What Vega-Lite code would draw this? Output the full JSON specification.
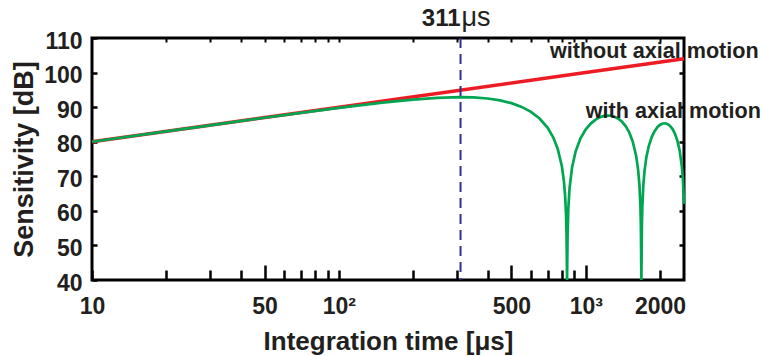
{
  "$schema": "https://vega.github.io/schema/vega-lite/v6.json",
  "width": 592,
  "height": 242,
  "autosize": {"type": "none"},
  "padding": {"left": 92, "top": 38, "right": 79, "bottom": 76},
  "background": "white",
  "config": {"view": {"stroke": "black", "strokeWidth": 3}, "font": "Liberation Sans"},
  "datasets": {
    "red": [
      {"t": 10, "s": 80.0},
      {"t": 100, "s": 90.0},
      {"t": 1000, "s": 100.0},
      {"t": 2500, "s": 103.98}
    ],
    "green": [
      {"t": 10, "s": 80.0}, {"t": 20, "s": 83.0}, {"t": 30, "s": 84.75}, {"t": 50, "s": 86.94},
      {"t": 70, "s": 88.35}, {"t": 100, "s": 89.8}, {"t": 150, "s": 91.3}, {"t": 200, "s": 92.18},
      {"t": 250, "s": 92.67}, {"t": 311, "s": 92.87}, {"t": 350, "s": 92.8}, {"t": 400, "s": 92.5},
      {"t": 450, "s": 91.96}, {"t": 500, "s": 91.16}, {"t": 550, "s": 90.07}, {"t": 600, "s": 88.62},
      {"t": 650, "s": 86.7}, {"t": 700, "s": 84.07}, {"t": 740, "s": 81.1}, {"t": 770, "s": 77.94},
      {"t": 800, "s": 72.98}, {"t": 815, "s": 68.83}, {"t": 825, "s": 64.35}, {"t": 832, "s": 58.86},
      {"t": 836, "s": 52.82}, {"t": 840, "s": 40.0}, {"t": 844, "s": 52.78}, {"t": 850, "s": 60.7},
      {"t": 860, "s": 66.67}, {"t": 880, "s": 72.56}, {"t": 910, "s": 77.21}, {"t": 950, "s": 80.8},
      {"t": 1000, "s": 83.56}, {"t": 1050, "s": 85.32}, {"t": 1100, "s": 86.47}, {"t": 1150, "s": 87.18},
      {"t": 1200, "s": 87.53}, {"t": 1250, "s": 87.57}, {"t": 1300, "s": 87.31}, {"t": 1350, "s": 86.74},
      {"t": 1400, "s": 85.83}, {"t": 1450, "s": 84.52}, {"t": 1500, "s": 82.68}, {"t": 1550, "s": 80.03},
      {"t": 1600, "s": 75.89}, {"t": 1630, "s": 71.81}, {"t": 1650, "s": 67.35}, {"t": 1665, "s": 61.3},
      {"t": 1672, "s": 55.83}, {"t": 1680, "s": 40.0}, {"t": 1688, "s": 55.79}, {"t": 1695, "s": 61.22},
      {"t": 1710, "s": 67.19}, {"t": 1730, "s": 71.55}, {"t": 1760, "s": 75.48}, {"t": 1800, "s": 78.74},
      {"t": 1850, "s": 81.34}, {"t": 1900, "s": 83.06}, {"t": 1950, "s": 84.2}, {"t": 2000, "s": 84.91},
      {"t": 2050, "s": 85.27}, {"t": 2100, "s": 85.32}, {"t": 2150, "s": 85.07}, {"t": 2200, "s": 84.5},
      {"t": 2250, "s": 83.58}, {"t": 2300, "s": 82.23}, {"t": 2350, "s": 80.3}, {"t": 2400, "s": 77.49},
      {"t": 2450, "s": 72.91}, {"t": 2475, "s": 69.09}, {"t": 2500, "s": 62.03}
    ],
    "marker": [{"t": 311, "s": 110}],
    "labels": [
      {"t": 716, "s": 104.2, "label": "without axial motion"},
      {"t": 1000, "s": 86.8, "label": "with axial motion"}
    ]
  },
  "resolve": {"axis": {"x": "independent", "y": "independent"}},
  "layer": [
    {
      "data": {"name": "red"},
      "mark": {"type": "line", "color": "#ed1c24", "strokeWidth": 3.5},
      "encoding": {
        "x": {
          "field": "t", "type": "quantitative",
          "scale": {"type": "log", "domain": [10, 2500], "nice": false},
          "axis": {
            "orient": "bottom", "domain": false, "grid": false,
            "values": [10, 20, 30, 40, 50, 60, 70, 80, 90, 100, 200, 300, 400, 500, 600, 700, 800, 900, 1000, 2000],
            "tickColor": "black", "tickWidth": 2.5,
            "tickSize": {"condition": {"test": "datum.value == 50 || datum.value == 500 || datum.value == 1000", "value": -15}, "value": -10},
            "labelPadding": {"condition": {"test": "datum.value == 50 || datum.value == 500 || datum.value == 1000", "value": 30}, "value": 25},
            "labelExpr": "datum.value == 10 ? '10' : datum.value == 50 ? '50' : datum.value == 100 ? '10²' : datum.value == 500 ? '500' : datum.value == 1000 ? '10³' : datum.value == 2000 ? '2000' : ''",
            "labelFontSize": 23, "labelFontWeight": "bold", "labelColor": "#231f20",
            "labelFlush": false, "labelOverlap": false, "labelBound": false,
            "title": "Integration time [μs]", "titleFontSize": 26, "titleFontWeight": "bold",
            "titleColor": "#231f20", "titlePadding": 10
          }
        },
        "y": {
          "field": "s", "type": "quantitative",
          "scale": {"domain": [40, 110], "nice": false, "zero": false},
          "axis": {
            "orient": "left", "domain": false, "grid": false,
            "values": [40, 50, 60, 70, 80, 90, 100, 110],
            "tickColor": "black", "tickWidth": 2.5, "tickSize": -5,
            "labelFontSize": 23, "labelFontWeight": "bold", "labelColor": "#231f20",
            "labelPadding": 15, "labelOffset": 3, "labelFlush": false, "labelOverlap": false, "labelBound": false,
            "title": "Sensitivity [dB]", "titleFontSize": 27, "titleFontWeight": "bold",
            "titleColor": "#231f20", "titlePadding": 5
          }
        }
      }
    },
    {
      "data": {"name": "green"},
      "mark": {"type": "line", "color": "#00a651", "strokeWidth": 2.7},
      "encoding": {
        "x": {
          "field": "t", "type": "quantitative",
          "scale": {"type": "log", "domain": [10, 2500], "nice": false},
          "axis": {
            "orient": "top", "domain": false, "grid": false, "labels": false, "title": null,
            "values": [20, 30, 40, 50, 60, 70, 80, 90, 100, 200, 300, 400, 500, 600, 700, 800, 900, 1000, 2000],
            "tickColor": "black", "tickWidth": 2, "tickSize": -4
          }
        },
        "y": {
          "field": "s", "type": "quantitative",
          "scale": {"domain": [40, 110], "nice": false, "zero": false},
          "axis": {
            "orient": "right", "domain": false, "grid": false, "labels": false, "title": null,
            "values": [50, 60, 70, 80, 90, 100],
            "tickColor": "black", "tickWidth": 2.5, "tickSize": -5
          }
        }
      }
    },
    {
      "data": {"name": "marker"},
      "mark": {"type": "rule", "color": "#2e3192", "strokeWidth": 2, "strokeDash": [10, 6]},
      "encoding": {
        "x": {"field": "t", "type": "quantitative", "axis": null}
      }
    },
    {
      "data": {"name": "marker"},
      "mark": {"type": "text", "text": "311", "align": "right", "baseline": "alphabetic", "dy": -12, "fontSize": 24, "fontWeight": "bold", "color": "#231f20"},
      "encoding": {
        "x": {"field": "t", "type": "quantitative", "axis": null},
        "y": {"field": "s", "type": "quantitative", "axis": null}
      }
    },
    {
      "data": {"name": "marker"},
      "mark": {"type": "text", "text": "μs", "align": "left", "baseline": "alphabetic", "dy": -12, "dx": 1, "fontSize": 27, "fontWeight": "normal", "color": "#231f20"},
      "encoding": {
        "x": {"field": "t", "type": "quantitative", "axis": null},
        "y": {"field": "s", "type": "quantitative", "axis": null}
      }
    },
    {
      "data": {"name": "labels"},
      "mark": {"type": "text", "align": "left", "baseline": "alphabetic", "fontSize": 21.6, "fontWeight": "bold", "color": "#231f20"},
      "encoding": {
        "x": {"field": "t", "type": "quantitative", "axis": null},
        "y": {"field": "s", "type": "quantitative", "axis": null},
        "text": {"field": "label"}
      }
    }
  ]
}
